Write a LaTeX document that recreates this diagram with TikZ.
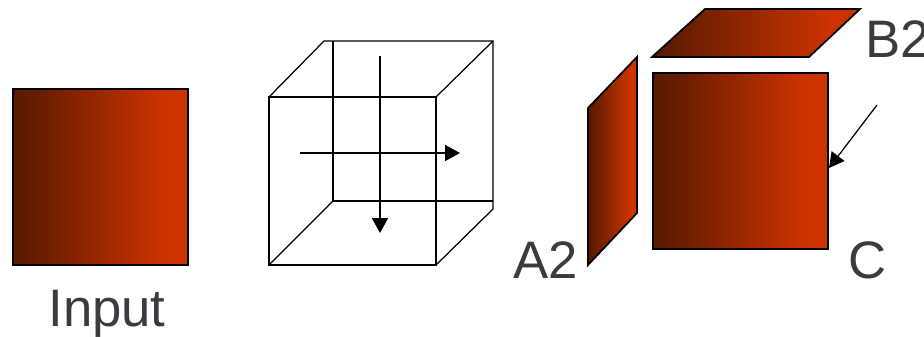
\documentclass[tikz,border=0pt]{standalone}
\usepackage{fontspec}
\setmainfont{Liberation Sans}
\usetikzlibrary{arrows.meta}
\definecolor{facedark}{HTML}{5A1A00}
\definecolor{faceorange}{HTML}{CC3300}
\definecolor{labelgray}{HTML}{3A3A40}
\pgfdeclarehorizontalshading{faceshade}{100bp}{color(0bp)=(facedark); color(27bp)=(facedark); color(68bp)=(faceorange); color(100bp)=(faceorange)}

\begin{document}
\begin{tikzpicture}[
    >={Triangle[length=0.3cm,width=0.32cm]},
    face/.style={draw=black, line width=1pt, shading=faceshade},
    square/.style={face, rectangle, minimum size=3.51cm, inner sep=0pt},
    wire/.style={draw=black, line width=0.7pt},
    flow/.style={->, draw=black, line width=1pt},
    lbl/.style={text=labelgray, font=\fontsize{30}{33}\selectfont, inner sep=0pt}
]
    \useasboundingbox (0,0) rectangle (18.48,6.72);

    % Input face
    \node[square] (input) at (2.01,3.18) {};
    \node[lbl, anchor=base] (inputlbl) at (2.14,0.20) {Input};

    % Cube corners
    \coordinate (f1) at (5.38,4.78);
    \coordinate (f2) at (8.72,4.78);
    \coordinate (f3) at (8.72,1.42);
    \coordinate (f4) at (5.38,1.42);
    \coordinate (b0) at (6.48,5.90);
    \coordinate (b1) at (6.66,5.90);
    \coordinate (b2) at (9.86,5.90);
    \coordinate (b3) at (9.86,2.54);
    \coordinate (b4) at (9.86,2.70);
    \coordinate (b5) at (6.66,2.70);

    \draw[wire] (f1) -- (f2) -- (f3) -- (f4) -- cycle;
    \draw[wire] (f1) -- (b0) -- (b2) -- (b3) -- (f3);
    \draw[wire] (f2) -- (b2);
    \draw[wire] (b1) -- (b5) -- (b4);
    \draw[wire] (f4) -- (b5);

    % Arrows through the cube
    \coordinate (vtop) at (7.60,5.60);
    \coordinate (vbot) at (7.60,2.06);
    \coordinate (hleft) at (6.00,3.66);
    \coordinate (hright) at (9.20,3.66);
    \draw[flow] (vtop) -- (vbot);
    \draw[flow] (hleft) -- (hright);

    % Separated faces
    \draw[face] (13.04,5.58) -- (14.10,6.54) -- (17.20,6.54) -- (16.18,5.58) -- cycle;
    \draw[face] (11.76,1.42) -- (11.76,4.56) -- (12.74,5.58) -- (12.74,2.46) -- cycle;
    \node[square] (cface) at (14.81,3.50) {};

    \node[lbl, anchor=base west] (b2lbl) at (17.30,5.58) {B2};
    \node[lbl, anchor=base west] (a2lbl) at (10.26,1.16) {A2};
    \node[lbl, anchor=base west] (clbl) at (16.96,1.16) {C};

    % Arrow onto the face
    \coordinate (cstart) at (17.54,4.62);
    \coordinate (cend) at (16.58,3.36);
    \draw[flow, line width=0.7pt] (cstart) -- (cend);

\end{tikzpicture}
\end{document}
